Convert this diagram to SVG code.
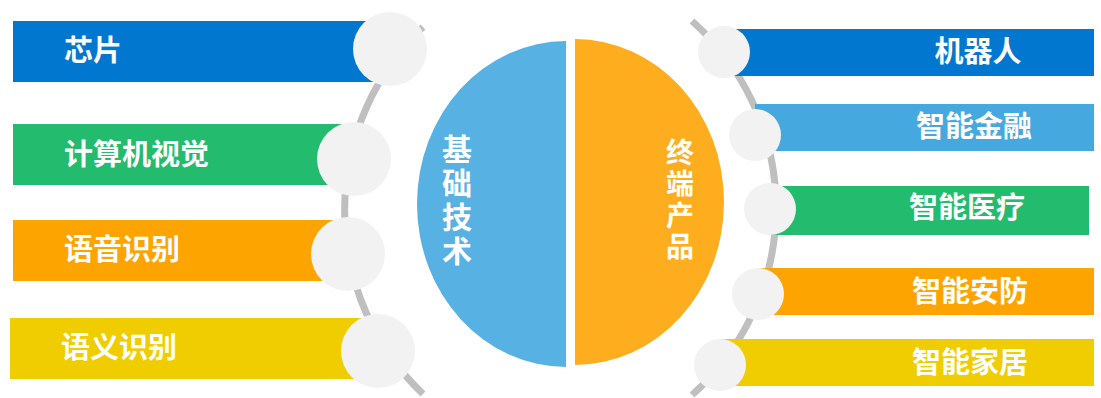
<svg xmlns="http://www.w3.org/2000/svg" width="1101" height="398" viewBox="0 0 1101 398">
<style>
.lbl{font-family:"Noto Sans CJK SC","Noto Sans",sans-serif;font-weight:bold;font-size:29px;fill:#ffffff;}
.vt{font-family:"Noto Sans CJK SC","Noto Sans",sans-serif;font-weight:bold;font-size:30px;fill:#ffffff;writing-mode:vertical-rl;text-orientation:upright;}
.dot{fill:#f2f2f2;}
.arc{fill:none;stroke:#bfbfbf;stroke-width:7;}
</style>
<rect width="1101" height="398" fill="#ffffff"/>
<g id="connectors">
<path class="arc" d="M 423 27 A 254 254 0 0 0 423 394"/>
<path class="arc" d="M 692 21 A 250 250 0 0 1 692 395"/>
</g>
<g id="center-left">
<path d="M 566 41 A 149 163 0 0 0 566 367 Z" fill="#58b1e3"/>
<text class="vt" x="457" y="134" style="letter-spacing:4px">基础技术</text>
</g>
<g id="center-right">
<path d="M 575 39 A 149 163 0 0 1 575 365 Z" fill="#fdad1e"/>
<text class="vt" x="680" y="138" style="font-size:28px;letter-spacing:3.5px">终端产品</text>
</g>
<g id="node-chip">
<rect x="13" y="21" width="377" height="61" fill="#0277cf"/>
<circle class="dot" cx="390" cy="49" r="37"/>
<text class="lbl" x="64" y="61">芯片</text>
</g>
<g id="node-cv">
<rect x="13" y="124" width="341" height="61" fill="#23bb6e"/>
<circle class="dot" cx="354" cy="159" r="37"/>
<text class="lbl" x="64" y="165">计算机视觉</text>
</g>
<g id="node-speech">
<rect x="13" y="220" width="335" height="61" fill="#fea401"/>
<circle class="dot" cx="348" cy="254" r="37"/>
<text class="lbl" x="64" y="260">语音识别</text>
</g>
<g id="node-semantic">
<rect x="10" y="318" width="368" height="61" fill="#f0cd00"/>
<circle class="dot" cx="378" cy="351" r="37"/>
<text class="lbl" x="61" y="358">语义识别</text>
</g>
<g id="node-robot">
<rect x="724" y="29" width="370" height="47" fill="#0277cf"/>
<circle class="dot" cx="724" cy="52" r="26"/>
<text class="lbl" x="978" y="62" text-anchor="middle">机器人</text>
</g>
<g id="node-finance">
<rect x="755" y="104" width="339" height="47" fill="#45a9e0"/>
<circle class="dot" cx="755" cy="135" r="26"/>
<text class="lbl" x="974" y="137" text-anchor="middle">智能金融</text>
</g>
<g id="node-medical">
<rect x="770" y="186" width="319" height="49" fill="#23bb6e"/>
<circle class="dot" cx="770" cy="209" r="26"/>
<text class="lbl" x="967" y="218" text-anchor="middle">智能医疗</text>
</g>
<g id="node-security">
<rect x="758" y="268" width="336" height="47" fill="#fea401"/>
<circle class="dot" cx="758" cy="294" r="26"/>
<text class="lbl" x="970" y="302" text-anchor="middle">智能安防</text>
</g>
<g id="node-home">
<rect x="720" y="339" width="374" height="47" fill="#f0cd00"/>
<circle class="dot" cx="720" cy="365" r="26"/>
<text class="lbl" x="970" y="373" text-anchor="middle">智能家居</text>
</g>
</svg>
